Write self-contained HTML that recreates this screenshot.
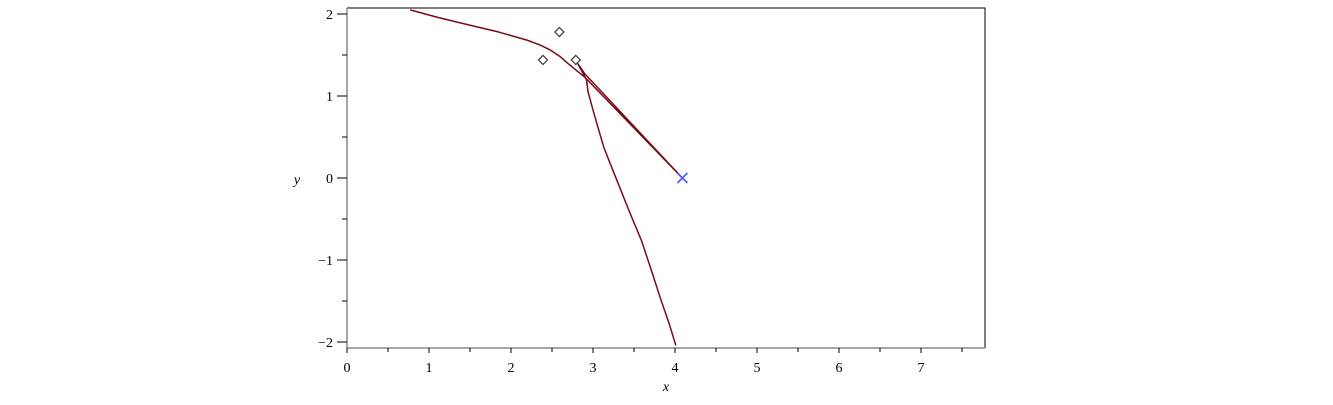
<!DOCTYPE html>
<html><head><meta charset="utf-8"><style>
body{margin:0;background:#fff;}
text{font-family:"Liberation Serif",serif;font-size:14px;fill:#000;}
</style></head><body>
<svg id="chart" width="1333" height="400" xmlns="http://www.w3.org/2000/svg">
<g id="plot"></g>
</svg>
<script>
const xTicks=[0,1,2,3,4,5,6,7];
const yTicks=[-2,-1,0,1,2];
const curveX=[0.77,1.10,1.47,1.85,2.20,2.36,2.48,2.60,2.69,2.80,2.91,4.09,2.90,2.81,2.92,2.94,3.00,3.06,3.13,3.22,3.34,3.46,3.59,3.71,3.83,3.93,4.01];
const curveY=[2.05,1.96,1.87,1.78,1.68,1.62,1.56,1.48,1.40,1.31,1.22,0.00,1.27,1.40,1.20,1.05,0.83,0.62,0.38,0.15,-0.15,-0.45,-0.76,-1.12,-1.49,-1.78,-2.04];
const diamondX=[2.39,2.59,2.79];
const diamondY=[1.44,1.78,1.44];
const crossX=[4.09];
const crossY=[0];
const NS="http://www.w3.org/2000/svg";
const X0=347,XS=82,Y0=178,YS=82;
const sx=v=>X0+v*XS, sy=v=>Y0-v*YS;
const g=document.getElementById('plot');
function mk(t,a){const e=document.createElementNS(NS,t);for(const k in a)e.setAttribute(k,a[k]);g.appendChild(e);return e;}
let e;
e=mk('path',{d:'M347,8 H985 V348',fill:'none',stroke:'#000','stroke-width':1});


e=mk('line',{x1:347,y1:8,x2:347,y2:348,stroke:'#888','stroke-width':1.5});


e=mk('line',{x1:347,y1:348,x2:985,y2:348,stroke:'#888','stroke-width':1.5});


for(let i=0;i<=15;i++){const v=i*0.5;const x=sx(v);const major=i%2===0;
 e=mk('line',{x1:x,y1:348,x2:x,y2:major?353:352,stroke:'#000'});
 
 }
xTicks.forEach(v=>{e=mk('text',{x:sx(v),y:372,'text-anchor':'middle'});e.textContent=v;
 
 });
for(let i=-4;i<=4;i++){const v=i*0.5;const y=sy(v);const major=i%2===0;
 e=mk('line',{x1:major?337:342,y1:y,x2:347,y2:y,stroke:'#000'});
 
 }
yTicks.forEach(v=>{e=mk('text',{x:333,y:sy(v)+5,'text-anchor':'end'});e.textContent=v<0?'\u2212'+(-v):v;
 
 });
e=mk('text',{x:666,y:391,'text-anchor':'middle','font-style':'italic'});e.textContent='x';


e=mk('text',{x:297,y:184,'text-anchor':'middle','font-style':'italic'});e.textContent='y';


e=mk('polyline',{points:curveX.map((v,i)=>sx(v)+','+sy(curveY[i])).join(' '),fill:'none',stroke:'#7a0a1a','stroke-width':1.5,'stroke-linejoin':'round'});


diamondX.forEach((v,i)=>{const x=sx(v),y=sy(diamondY[i]);
 e=mk('path',{d:`M${x},${y-4.5} L${x+4.5},${y} L${x},${y+4.5} L${x-4.5},${y} Z`,fill:'none',stroke:'#444','stroke-width':1.3});
 
 });
crossX.forEach((v,i)=>{const x=sx(v),y=sy(crossY[i]);
 e=mk('path',{d:`M${x-5},${y-5} L${x+5},${y+5} M${x-5},${y+5} L${x+5},${y-5}`,stroke:'#5555ff','stroke-width':1.6});
 
 });
</script>
</body></html>
